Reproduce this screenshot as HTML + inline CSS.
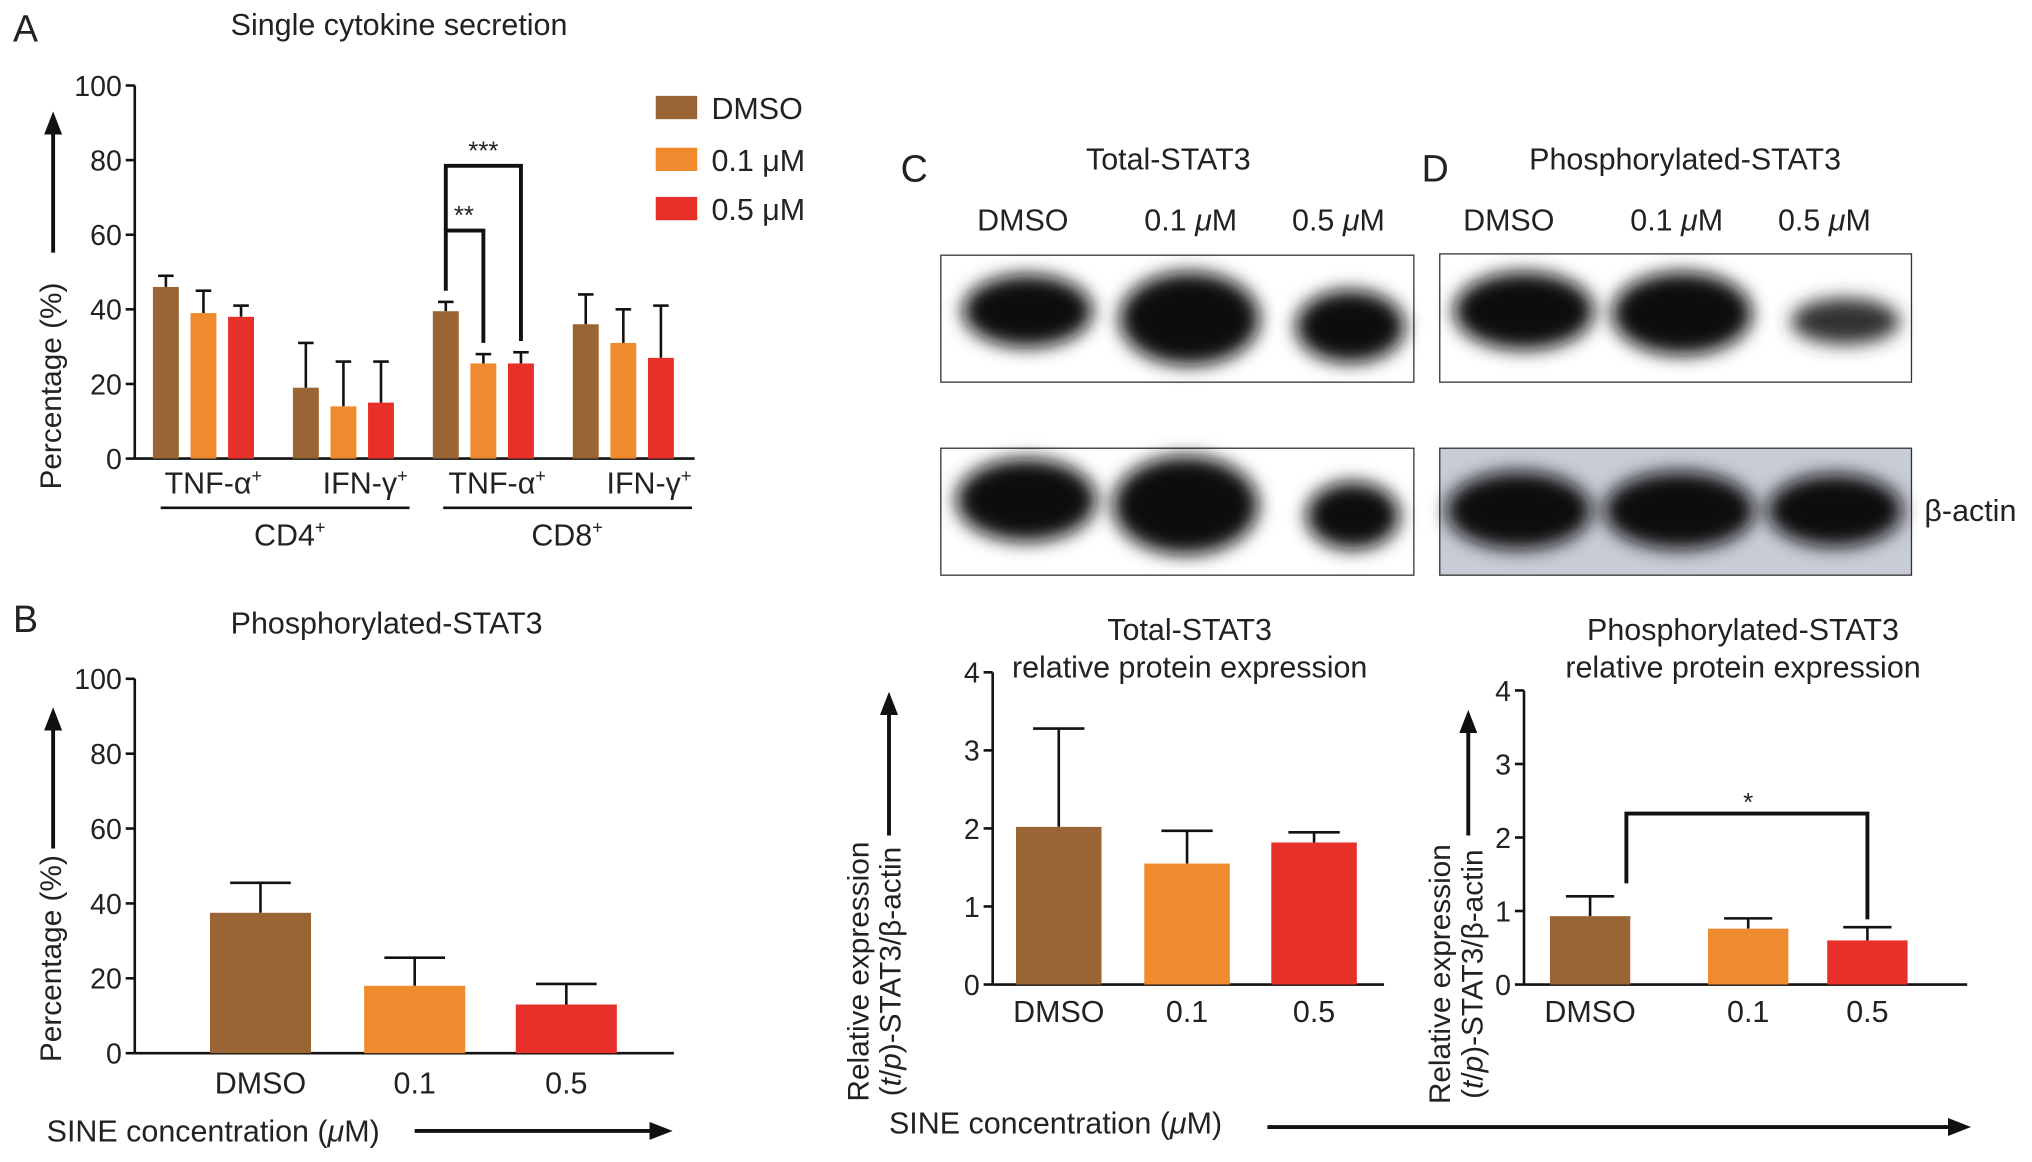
<!DOCTYPE html>
<html><head><meta charset="utf-8"><style>
html,body{margin:0;padding:0;background:#fff}
svg{display:block}
text{font-family:"Liberation Sans",sans-serif;fill:#222}
</style></head><body>
<svg id="fig" width="2032" height="1162" viewBox="0 0 1568 897" preserveAspectRatio="none" xmlns="http://www.w3.org/2000/svg">
<defs>
<filter id="blur" x="-30%" y="-50%" width="160%" height="200%"><feGaussianBlur stdDeviation="7"/></filter>
<marker id="ah" markerUnits="userSpaceOnUse" markerWidth="18" markerHeight="14" refX="4" refY="7" orient="auto"><path d="M0,0 L18,7 L0,14 z" fill="#111"/></marker>
</defs>
<g id="static">
<text x="10" y="32" font-size="29">A</text>
<text x="178" y="27" font-size="23.5">Single cytokine secretion</text>
<text x="10" y="488" font-size="29">B</text>
<text x="178" y="489" font-size="23.5">Phosphorylated-STAT3</text>
<text x="695" y="140" font-size="29">C</text>
<text x="838" y="131" font-size="23.5">Total-STAT3</text>
<text x="1097" y="140" font-size="29">D</text>
<text x="1180" y="131" font-size="23.5">Phosphorylated-STAT3</text>
<g font-size="23.5">
<rect x="506" y="74" width="32" height="18" fill="#9a6535"/><text x="549" y="92">DMSO</text>
<rect x="506" y="114" width="32" height="18" fill="#ef8a2e"/><text x="549" y="132">0.1 μM</text>
<rect x="506" y="152" width="32" height="18" fill="#e8302a"/><text x="549" y="170">0.5 μM</text>
</g>
<g font-size="23.5">
<text x="754" y="178">DMSO</text><text x="883" y="178">0.1 <tspan font-style="italic">μ</tspan>M</text><text x="997" y="178">0.5 <tspan font-style="italic">μ</tspan>M</text>
<text x="1129" y="178">DMSO</text><text x="1258" y="178">0.1 <tspan font-style="italic">μ</tspan>M</text><text x="1372" y="178">0.5 <tspan font-style="italic">μ</tspan>M</text>
</g>
<g>
<rect x="726" y="197" width="365" height="98" fill="#fff" stroke="#333"/>
<g filter="url(#blur)" fill="#111"><ellipse cx="793" cy="240" rx="50" ry="28"/><ellipse cx="918" cy="246" rx="54" ry="36"/><ellipse cx="1042" cy="252" rx="42" ry="28"/></g>
</g>
<g>
<rect x="726" y="346" width="365" height="98" fill="#fff" stroke="#333"/>
<g filter="url(#blur)" fill="#111"><ellipse cx="792" cy="386" rx="54" ry="32"/><ellipse cx="915" cy="390" rx="56" ry="38"/><ellipse cx="1044" cy="398" rx="36" ry="26"/></g>
</g>
<g>
<rect x="1111" y="196" width="364" height="99" fill="#fff" stroke="#333"/>
<g filter="url(#blur)" fill="#111"><ellipse cx="1176" cy="240" rx="54" ry="30"/><ellipse cx="1298" cy="242" rx="54" ry="32"/><ellipse cx="1424" cy="248" rx="42" ry="18" fill="#333"/></g>
</g>
<g>
<rect x="1111" y="346" width="364" height="98" fill="#c8ccd6" stroke="#333"/>
<g filter="url(#blur)" fill="#111"><ellipse cx="1172" cy="394" rx="56" ry="30"/><ellipse cx="1296" cy="394" rx="58" ry="30"/><ellipse cx="1416" cy="394" rx="52" ry="28"/></g>
</g>
<text x="1485" y="402" font-size="23.5">β-actin</text>
<text x="918" y="494" font-size="23.5" text-anchor="middle">Total-STAT3</text>
<text x="918" y="523" font-size="23.5" text-anchor="middle">relative protein expression</text>
<text x="1345" y="494" font-size="23.5" text-anchor="middle">Phosphorylated-STAT3</text>
<text x="1345" y="523" font-size="23.5" text-anchor="middle">relative protein expression</text>
<text x="36" y="881" font-size="23.5">SINE concentration (<tspan font-style="italic">μ</tspan>M)</text>
<line x1="320" y1="873" x2="505" y2="873" stroke="#111" stroke-width="3" marker-end="url(#ah)"/>
<text x="686" y="875" font-size="23.5">SINE concentration (<tspan font-style="italic">μ</tspan>M)</text>
<line x1="978" y1="870" x2="1507" y2="870" stroke="#111" stroke-width="3" marker-end="url(#ah)"/>
<g font-size="23.5">
<text x="127" y="381">TNF-α<tspan font-size="14" dy="-9">+</tspan></text>
<text x="249" y="381">IFN-γ<tspan font-size="14" dy="-9">+</tspan></text>
<text x="346" y="381">TNF-α<tspan font-size="14" dy="-9">+</tspan></text>
<text x="468" y="381">IFN-γ<tspan font-size="14" dy="-9">+</tspan></text>
<line x1="124" y1="392" x2="316" y2="392" stroke="#111" stroke-width="2"/>
<line x1="342" y1="392" x2="534" y2="392" stroke="#111" stroke-width="2"/>
<text x="196" y="421">CD4<tspan font-size="14" dy="-9">+</tspan></text>
<text x="410" y="421">CD8<tspan font-size="14" dy="-9">+</tspan></text>
</g>
</g>
<g id="charts"></g>
</svg>
<script>
// Panel A data
const aGroups = ["CD4 TNF", "CD4 IFN", "CD8 TNF", "CD8 IFN"];
const aDMSO = [46, 19, 39.5, 36];
const aDMSOerr = [3, 12, 2.5, 8];
const a01 = [39, 14, 25.5, 31];
const a01err = [6, 12, 2.5, 9];
const a05 = [38, 15, 25.5, 27];
const a05err = [3, 11, 3, 14];
const pctTicks = [0, 20, 40, 60, 80, 100];
// Panel B data
const bCats = ["DMSO", "0.1", "0.5"];
const bVals = [37.5, 18, 13];
const bErr = [8, 7.5, 5.5];
// Panel C data
const cCats = ["DMSO", "0.1", "0.5"];
const cVals = [2.02, 1.55, 1.82];
const cErr = [1.26, 0.42, 0.13];
// Panel D data
const dCats = ["DMSO", "0.1", "0.5"];
const dVals = [0.93, 0.76, 0.6];
const dErr = [0.27, 0.14, 0.18];
const relTicks = [0, 1, 2, 3, 4];

const colors = ["#9a6535", "#ef8a2e", "#e8302a"];
const NS = "http://www.w3.org/2000/svg";
const root = document.getElementById("charts");
function mk(tag, attrs, parent) {
  const e = document.createElementNS(NS, tag);
  for (const k in attrs) e.setAttribute(k, attrs[k]);
  (parent || root).appendChild(e);
  return e;
}
function axis(x0, y0, y1, xEnd, ticks, max, fs, name) {
  const g = mk("g", {});
  
  
  const sy = v => y0 - (v / max) * (y0 - y1);
  mk("line", {x1: x0, y1: y0, x2: x0, y2: y1, stroke: "#111", "stroke-width": 2}, g);
  mk("line", {x1: x0, y1: y0, x2: xEnd, y2: y0, stroke: "#111", "stroke-width": 2}, g);
  ticks.forEach(t => {
    const y = sy(t);
    mk("line", {x1: x0 - 7, y1: y, x2: x0, y2: y, stroke: "#111", "stroke-width": 2}, g);
    const tx = mk("text", {x: x0 - 10, y: y + 8, "font-size": fs, "text-anchor": "end"}, g);
    tx.textContent = t;
  });
  return sy;
}
function bar(x, w, v, err, sy, color, name) {
  const top = sy(v), et = sy(v + err);
  const cx = x + w / 2;
  mk("line", {x1: cx, y1: top, x2: cx, y2: et, stroke: "#111", "stroke-width": 2});
  mk("line", {x1: cx - w * 0.3, y1: et, x2: cx + w * 0.3, y2: et, stroke: "#111", "stroke-width": 2});
  const r = mk("rect", {x: x, y: top, width: w, height: sy(0) - top, fill: color});
  
  
}
function ytitle(x, y, lines, name) {
  const t = mk("text", {transform: `translate(${x},${y}) rotate(-90)`, "font-size": 23, "text-anchor": "middle"});
  
  
  lines.forEach((s, i) => { const ts = mk("tspan", {x: 0, dy: i ? 25 : 0}, t); ts.innerHTML = s; });
}
function upArrow(x, y1, y2) {
  mk("line", {x1: x, y1: y1, x2: x, y2: y2, stroke: "#111", "stroke-width": 3, "marker-end": "url(#ah)"});
}
// Panel A
const syA = axis(104, 354, 66, 536, pctTicks, 100, 22, "a-axes");
const aStarts = [118, 226, 334, 442];
const aSeries = [[aDMSO, aDMSOerr], [a01, a01err], [a05, a05err]];
aGroups.forEach((g, i) => {
  aSeries.forEach((s, j) => bar(aStarts[i] + j * 29, 20, s[0][i], s[1][i], syA, colors[j], "a-bar"));
});
ytitle(47, 298, ["Percentage (%)"], "a-y-title");
upArrow(41, 195, 100);
const bx = [344, 373, 402];
mk("path", {d: `M${bx[0]},${syA(aDMSO[2]+aDMSOerr[2]+3)} L${bx[0]},178 L${bx[1]},178 L${bx[1]},${syA(a01[2]+a01err[2]+3)}`, fill: "none", stroke: "#111", "stroke-width": 3});
mk("path", {d: `M${bx[0]},178 L${bx[0]},128 L${bx[2]},128 L${bx[2]},${syA(a05[2]+a05err[2]+3)}`, fill: "none", stroke: "#111", "stroke-width": 3});
mk("text", {x: 358, y: 173, "font-size": 20, "text-anchor": "middle", fill: "#555"}).textContent = "**";
mk("text", {x: 373, y: 123, "font-size": 20, "text-anchor": "middle", fill: "#555"}).textContent = "***";
// Panel B
const syB = axis(104, 813, 524, 520, pctTicks, 100, 22, "b-axes");
const bStarts = [162, 281, 398];
bCats.forEach((c, i) => {
  bar(bStarts[i], 78, bVals[i], bErr[i], syB, colors[i], "b-bar");
  const t = mk("text", {x: bStarts[i] + 39, y: 844, "font-size": 23.5, "text-anchor": "middle"});
  t.textContent = c;
});
ytitle(47, 740, ["Percentage (%)"], "b-y-title");
upArrow(41, 655, 560);
// Panel C
const syC = axis(766, 760, 519, 1068, relTicks, 4, 22, "c-axes");
const cStarts = [784, 883, 981];
cCats.forEach((c, i) => {
  bar(cStarts[i], 66, cVals[i], cErr[i], syC, colors[i], "c-bar");
  const t = mk("text", {x: cStarts[i] + 33, y: 789, "font-size": 23.5, "text-anchor": "middle"});
  t.textContent = c;
});
ytitle(670, 750, ["Relative expression", "(<tspan font-style='italic'>t</tspan>/<tspan font-style='italic'>p</tspan>)-STAT3/β-actin"], "c-y-title");
upArrow(686, 645, 548);
// Panel D
const syD = axis(1176, 760, 533, 1518, relTicks, 4, 22, "d-axes");
const dStarts = [1196, 1318, 1410];
dCats.forEach((c, i) => {
  bar(dStarts[i], 62, dVals[i], dErr[i], syD, colors[i], "d-bar");
  const t = mk("text", {x: dStarts[i] + 31, y: 789, "font-size": 23.5, "text-anchor": "middle"});
  t.textContent = c;
});
ytitle(1119, 752, ["Relative expression", "(<tspan font-style='italic'>t</tspan>/<tspan font-style='italic'>p</tspan>)-STAT3/β-actin"], "d-y-title");
upArrow(1133, 645, 562);
mk("path", {d: `M1255,${syD(dVals[0]+dErr[0])-10} L1255,628 L1441,628 L1441,${syD(dVals[2]+dErr[2])-6}`, fill: "none", stroke: "#111", "stroke-width": 3});
mk("text", {x: 1349, y: 626, "font-size": 20, "text-anchor": "middle", fill: "#555"}).textContent = "*";
</script>
</body></html>
